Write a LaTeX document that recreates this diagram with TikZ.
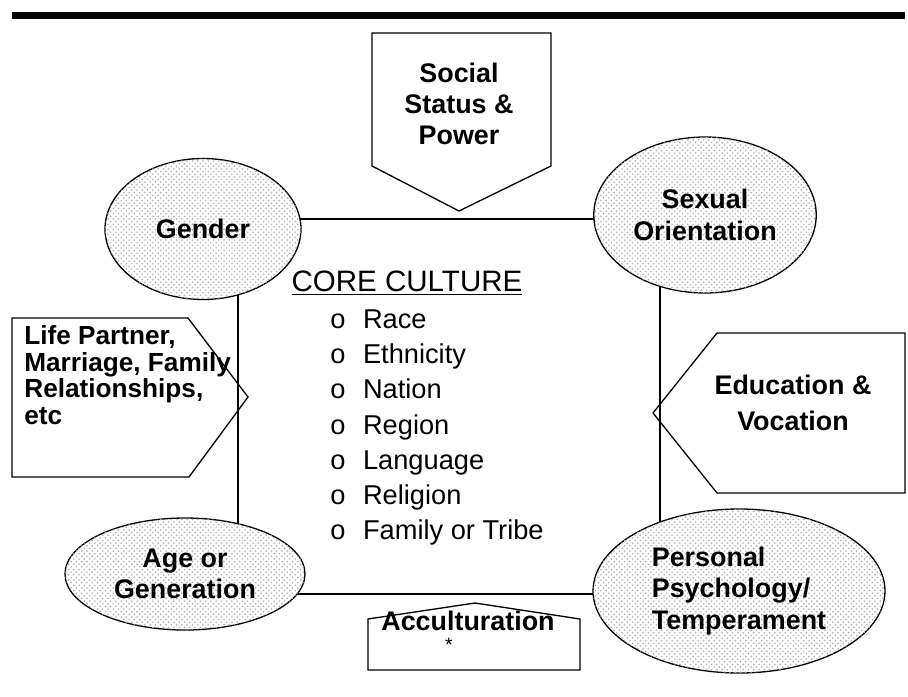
\documentclass[tikz,border=0pt]{standalone}
\usepackage{fontspec}
\setmainfont{Liberation Sans}
\usetikzlibrary{shapes.geometric, patterns, positioning, backgrounds}

\begin{document}
\begin{tikzpicture}[x=0.02cm, y=-0.02cm,
    factor/.style={ellipse, draw=black, line width=0.75pt, fill=white, postaction={pattern=crosshatch dots, pattern color=black!32}, inner sep=0pt, align=center, font=\bfseries\fontsize{15.3}{17.8}\selectfont},
    panel/.style={draw=black, line width=0.75pt},
    paneltext/.style={align=center, inner sep=0pt, font=\bfseries\fontsize{15.3}{17.8}\selectfont},
    plaintext/.style={align=left, inner sep=0pt, font=\fontsize{15.5}{20.1}\selectfont},
    link/.style={draw=black, line width=0.75pt}
    ]
    \useasboundingbox (0,0) rectangle (908,696);

    % Rule at the top
    \fill[black] (12,12) rectangle (905,19);

    % Corners of the core frame
    \coordinate (nw) at (238,219);
    \coordinate (ne) at (660,219);
    \coordinate (se) at (660,594);
    \coordinate (sw) at (238,594);

    % Factors round the core
    \node (gender) [factor, minimum width=3.92cm, minimum height=2.82cm] at (203,229) {Gender};
    \node (sexual) [factor, minimum width=4.45cm, minimum height=3.12cm] at (705,215) {Sexual\\Orientation};
    \node (age) [factor, minimum width=4.8cm, minimum height=2.24cm] at (185,574) {Age or\\Generation};
    \node (personal) [factor, minimum width=5.84cm, minimum height=3.28cm, align=left] at (739,591) {Personal\\Psychology/\\Temperament\hspace{14pt}};

    % Frame, behind the factors
    \begin{scope}[on background layer]
        \draw [link] (nw) -- (ne) -- (se) -- (sw) -- cycle;
    \end{scope}

    % Core culture
    \node (core) [plaintext, font=\fontsize{16.8}{20}\selectfont] at (407,283) {\underline{CORE CULTURE}};
    \node (traits) [plaintext, anchor=north west] at (330,309)
        {o\hspace{10pt}Race\\o\hspace{10pt}Ethnicity\\o\hspace{10pt}Nation\\o\hspace{10pt}Region\\o\hspace{10pt}Language\\o\hspace{10pt}Religion\\o\hspace{10pt}Family or Tribe};

    % Social status (points down)
    \draw [panel] (372,33) -- (551,33) -- (551,166) -- (459,211) -- (372,166) -- cycle;
    \node (status) [paneltext] at (459,104) {Social\\Status \&\\Power};

    % Life partner (points right)
    \draw [panel] (12,318) -- (188,318) -- (248,397) -- (189,477) -- (12,477) -- cycle;
    \node (partner) [paneltext, align=left, anchor=west, font=\bfseries\fontsize{14.9}{15.2}\selectfont] at (24,375) {Life Partner,\\Marriage, Family\\Relationships,\\etc};

    % Education (points left)
    \draw [panel] (717,333) -- (905,333) -- (905,493) -- (717,493) -- (653,413) -- cycle;
    \node (vocation) [paneltext, font=\bfseries\fontsize{15.3}{20.4}\selectfont] at (793,403) {Education \&\\Vocation};

    % Acculturation (points up)
    \draw [panel] (368,670) -- (368,619) -- (475,603) -- (580,619) -- (580,670) -- cycle;
    \node (accult) [paneltext] at (468,621) {Acculturation};
    \node (star) [paneltext, font=\fontsize{11}{11}\selectfont] at (449,645) {*};

\end{tikzpicture}
\end{document}
